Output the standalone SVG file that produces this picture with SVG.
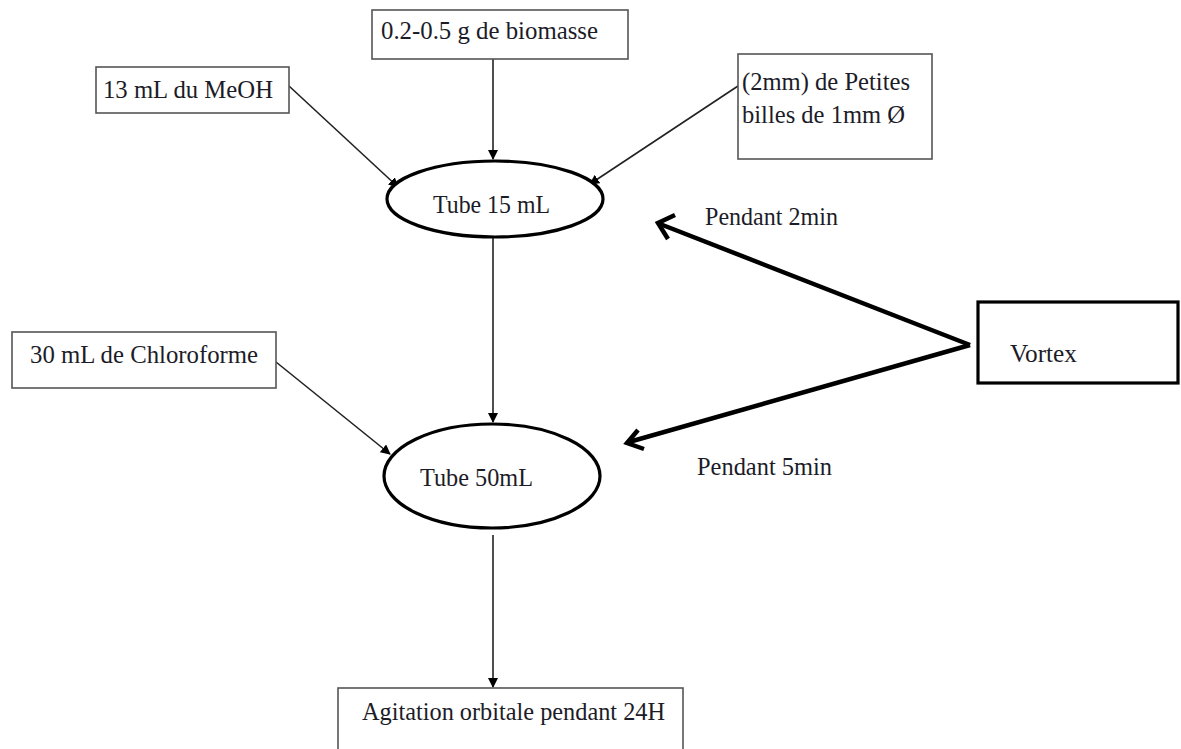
<svg xmlns="http://www.w3.org/2000/svg" width="1181" height="749" viewBox="0 0 1181 749">
<defs>
<style>
.box{fill:#fff;stroke:#555;stroke-width:1.6}
.bold{fill:#fff;stroke:#000;stroke-width:3.2}
.t{font-family:"Liberation Serif","Times New Roman",serif;font-size:25.5px;fill:#1c1c28}
.thin{stroke:#222;stroke-width:1.6;fill:none}
.thick{stroke:#000;stroke-width:4.5;fill:none}
</style>
<marker id="ah" viewBox="0 0 10 10" refX="9" refY="5" markerWidth="10" markerHeight="10" markerUnits="userSpaceOnUse" orient="auto">
<path d="M0,0 L10,5 L0,10 Z" fill="#000"/>
</marker>
</defs>
<rect width="1181" height="749" fill="#fff"/>
<g id="connectors">
<line class="thin" x1="493" y1="59" x2="493" y2="159" marker-end="url(#ah)"/>
<line class="thin" x1="289" y1="86" x2="398" y2="187" marker-end="url(#ah)"/>
<line class="thin" x1="738" y1="86" x2="590" y2="184" marker-end="url(#ah)"/>
<line class="thin" x1="493" y1="237" x2="493" y2="422" marker-end="url(#ah)"/>
<line class="thin" x1="276" y1="362" x2="390" y2="454" marker-end="url(#ah)"/>
<line class="thin" x1="493" y1="535" x2="493" y2="687" marker-end="url(#ah)"/>
<line class="thick" x1="970" y1="345" x2="660" y2="224"/>
<line class="thick" x1="970" y1="345" x2="629" y2="442"/>
<path d="M675,215 L658,223 L668,239" fill="none" stroke="#000" stroke-width="4.5"/>
<path d="M638,430 L627,443 L644,449" fill="none" stroke="#000" stroke-width="4.5"/>
</g>
<g id="n-biomasse">
<rect class="box" x="372" y="10" width="256" height="49"/>
<text class="t" x="381" y="39" textLength="217" lengthAdjust="spacingAndGlyphs">0.2-0.5 g de biomasse</text>
</g>
<g id="n-meoh">
<rect class="box" x="96" y="67" width="193" height="46"/>
<text class="t" x="103" y="98" textLength="170" lengthAdjust="spacingAndGlyphs">13 mL du MeOH</text>
</g>
<g id="n-billes">
<rect class="box" x="738" y="54" width="194" height="105"/>
<text class="t" x="742" y="90" textLength="168" lengthAdjust="spacingAndGlyphs">(2mm) de Petites</text>
<text class="t" x="742" y="123" textLength="163" lengthAdjust="spacingAndGlyphs">billes de 1mm Ø</text>
</g>
<g id="n-tube15">
<ellipse class="bold" cx="495" cy="199" rx="108" ry="38"/>
<text class="t" x="433" y="213" textLength="117" lengthAdjust="spacingAndGlyphs">Tube 15 mL</text>
</g>
<g id="n-chloro">
<rect class="box" x="12" y="332" width="264" height="56"/>
<text class="t" x="30" y="363" textLength="228" lengthAdjust="spacingAndGlyphs">30 mL de Chloroforme</text>
</g>
<g id="n-tube50">
<ellipse class="bold" cx="492" cy="476" rx="108" ry="52"/>
<text class="t" x="420" y="486" textLength="113" lengthAdjust="spacingAndGlyphs">Tube 50mL</text>
</g>
<g id="n-vortex">
<rect class="bold" x="978" y="302" width="200" height="81"/>
<text class="t" x="1010" y="362" textLength="67" lengthAdjust="spacingAndGlyphs">Vortex</text>
</g>
<g id="n-agitation">
<rect class="box" x="338" y="688" width="345" height="80"/>
<text class="t" x="362" y="720" textLength="303" lengthAdjust="spacingAndGlyphs">Agitation orbitale pendant 24H</text>
</g>
<g id="labels">
<text class="t" x="705" y="225" textLength="133" lengthAdjust="spacingAndGlyphs">Pendant 2min</text>
<text class="t" x="697" y="475" textLength="135" lengthAdjust="spacingAndGlyphs">Pendant 5min</text>
</g>
</svg>
